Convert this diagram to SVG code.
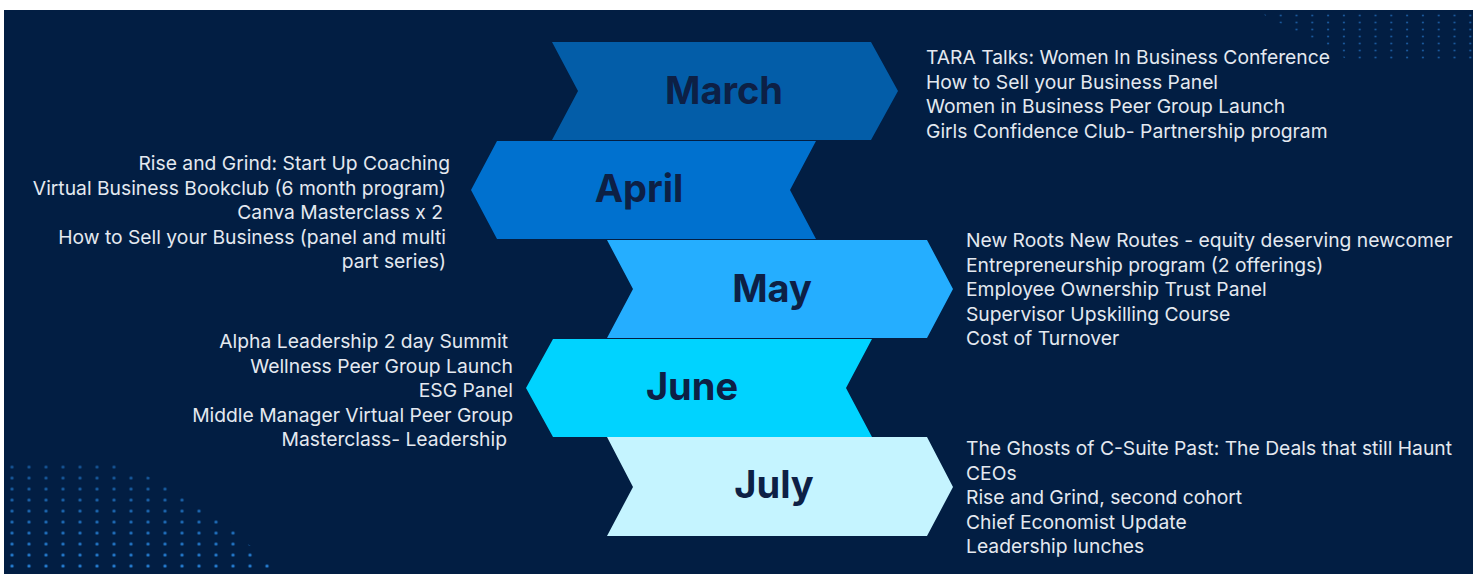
<svg xmlns="http://www.w3.org/2000/svg" width="1478" height="574" viewBox="0 0 1478 574">
  <style>
    .month { font-family: Inter, "Noto Sans", "Liberation Sans", sans-serif; font-weight: 700; font-size: 38px; fill: #0D2045; text-anchor: middle; }
    .item { font-family: Inter, "Noto Sans", "Liberation Sans", sans-serif; font-weight: 400; font-size: 19.3px; fill: #E4E9F0; }
    .right { text-anchor: end; }
  </style>
  <defs>
    <!-- halftone dot grids used in the corners -->
    <pattern id="dotsLower" patternUnits="userSpaceOnUse" x="3.5" y="461.5" width="17" height="11">
      <circle cx="8.5" cy="5.5" r="1.6" fill="#2A8BE6"/>
    </pattern>
    <pattern id="dotsUpper" patternUnits="userSpaceOnUse" x="1257" y="12" width="15.8" height="7">
      <circle cx="7.9" cy="3.5" r="1.1" fill="#2A7FD6"/>
    </pattern>
    <linearGradient id="fadeLower" x1="0" y1="460" x2="0" y2="574" gradientUnits="userSpaceOnUse">
      <stop offset="0" stop-color="#fff" stop-opacity="0.5"/>
      <stop offset="1" stop-color="#fff" stop-opacity="1"/>
    </linearGradient>
    <mask id="maskLower" maskUnits="userSpaceOnUse" x="0" y="450" width="300" height="124">
      <rect x="0" y="450" width="300" height="124" fill="url(#fadeLower)"/>
    </mask>
  </defs>

  <!-- page and backdrop -->
  <rect x="0" y="0" width="1478" height="574" fill="#FFFFFF"/>
  <rect x="4" y="10" width="1469" height="564" fill="#021E43"/>

  <!-- corner dot textures -->
  <polygon points="4,459 100,459 122,466 142,474 160,481 178,488 194,504 210,512 228,520 246,543 262,553 276,574 4,574" fill="url(#dotsLower)" mask="url(#maskLower)"/>
  <polygon points="1255,10 1473,10 1473,62 1352,62" fill="url(#dotsUpper)" opacity="0.6"/>

  <!-- month chevrons -->
  <g id="march">
    <polygon points="552,42 871,42 898,91 871,140 552,140 578,91" fill="#035DA8"/>
    <text class="month" x="724" y="104">March</text>
  </g>
  <g id="april">
    <polygon points="497,141 816,141 790,190 816,239 497,239 471,190" fill="#0071CF"/>
    <text class="month" x="639" y="202">April</text>
  </g>
  <g id="may">
    <polygon points="607,240 927,240 953,289 927,338 607,338 633,289" fill="#25AEFF"/>
    <text class="month" x="772" y="302">May</text>
  </g>
  <g id="june">
    <polygon points="553,339 872,339 846,388 872,437 553,437 526,388" fill="#00D3FF"/>
    <text class="month" x="692" y="400">June</text>
  </g>
  <g id="july">
    <polygon points="607,437 927,437 953,487 927,536 607,536 633,487" fill="#C5F4FF"/>
    <text class="month" x="774" y="498">July</text>
  </g>

  <!-- event lists beside each month -->
  <g id="march-events">
    <text class="item" x="926" y="64">TARA Talks: Women In Business Conference</text>
    <text class="item" x="926" y="88.5">How to Sell your Business Panel</text>
    <text class="item" x="926" y="113">Women in Business Peer Group Launch</text>
    <text class="item" x="926" y="137.5">Girls Confidence Club- Partnership program</text>
  </g>
  <g id="april-events">
    <text class="item right" x="450" y="170">Rise and Grind: Start Up Coaching</text>
    <text class="item right" x="446" y="194.5">Virtual Business Bookclub (6 month program)</text>
    <text class="item right" x="443" y="219">Canva Masterclass x 2</text>
    <text class="item right" x="446" y="243.5">How to Sell your Business (panel and multi</text>
    <text class="item right" x="446" y="268">part series)</text>
  </g>
  <g id="may-events">
    <text class="item" x="966" y="247">New Roots New Routes - equity deserving newcomer</text>
    <text class="item" x="966" y="271.5">Entrepreneurship program (2 offerings)</text>
    <text class="item" x="966" y="296">Employee Ownership Trust Panel</text>
    <text class="item" x="966" y="320.5">Supervisor Upskilling Course</text>
    <text class="item" x="966" y="345">Cost of Turnover</text>
  </g>
  <g id="june-events">
    <text class="item right" x="508" y="348">Alpha Leadership 2 day Summit</text>
    <text class="item right" x="513" y="372.5">Wellness Peer Group Launch</text>
    <text class="item right" x="513" y="397">ESG Panel</text>
    <text class="item right" x="513" y="421.5">Middle Manager Virtual Peer Group</text>
    <text class="item right" x="507" y="446">Masterclass- Leadership</text>
  </g>
  <g id="july-events">
    <text class="item" x="966" y="455">The Ghosts of C-Suite Past: The Deals that still Haunt</text>
    <text class="item" x="966" y="479.5">CEOs</text>
    <text class="item" x="966" y="504">Rise and Grind, second cohort</text>
    <text class="item" x="966" y="528.5">Chief Economist Update</text>
    <text class="item" x="966" y="553">Leadership lunches</text>
  </g>
</svg>
